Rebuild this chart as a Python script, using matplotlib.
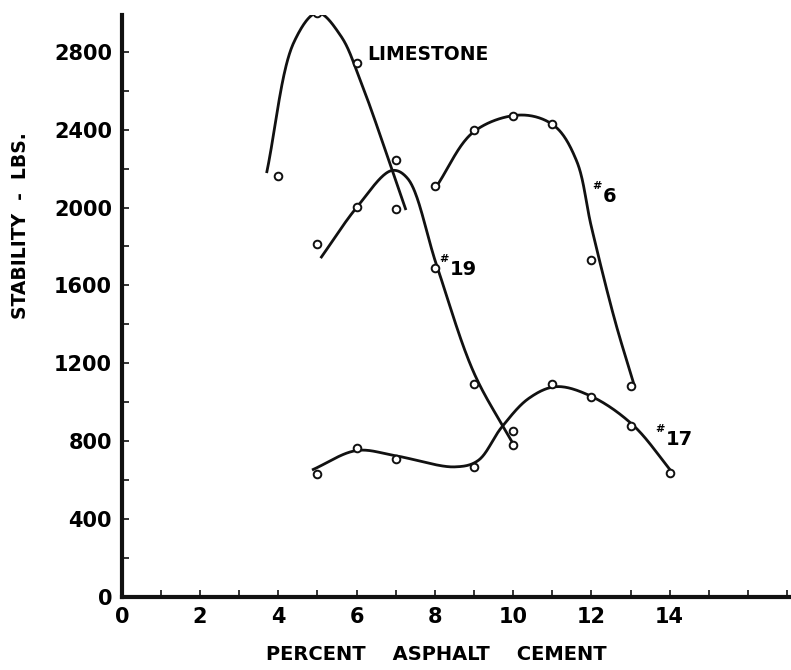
import numpy as np
import matplotlib.pyplot as plt
from matplotlib.ticker import MultipleLocator, FixedLocator

# measured points (percent asphalt, stability lbs)
limestone_x = [4, 5, 6, 7]
limestone_y = [2160, 3000, 2740, 1990]
no19_x = [5, 6, 7, 8, 9, 10]
no19_y = [1815, 2005, 2245, 1690, 1095, 780]
no6_x = [8, 9, 10, 11, 12, 13]
no6_y = [2110, 2400, 2470, 2430, 1730, 1085]
no17_x = [5, 6, 7, 9, 10, 11, 12, 13, 14]
no17_y = [630, 765, 710, 665, 850, 1095, 1025, 880, 635]

# hand-drawn fitted curves
limestone_cx = [3.7, 4.4, 5.0, 5.6, 6.1, 7.26]
limestone_cy = [2177, 2850, 3000, 2880, 2650, 1987]
no19_cx = [5.08, 6.0, 6.9, 7.3, 8.05, 9.0, 9.99]
no19_cy = [1740, 2000, 2190, 2150, 1700, 1150, 790]
no6_cx = [8.03, 9.0, 10.2, 11.05, 11.62, 12.0, 12.6, 13.1]
no6_cy = [2105, 2390, 2475, 2420, 2240, 1900, 1420, 1083]
no17_cx = [4.86, 6.0, 7.0, 8.5, 9.1, 9.7, 10.4, 11.1, 12.0, 13.06, 14.08]
no17_cy = [652, 752, 725, 668, 700, 870, 1020, 1080, 1030, 883, 636]

# rough pixel scale so the spline works in screen-like space
SX, SY = 39.1, 0.1946


def smooth(xs, ys, n=40):
    # centripetal catmull-rom through the curve points
    p = np.column_stack([np.array(xs) * SX, np.array(ys) * SY]).astype(float)
    p = np.vstack([2 * p[0] - p[1], p, 2 * p[-1] - p[-2]])
    out = []
    for i in range(1, len(p) - 2):
        p0, p1, p2, p3 = p[i - 1], p[i], p[i + 1], p[i + 2]
        t0 = 0.0
        t1 = t0 + np.linalg.norm(p1 - p0) ** 0.5
        t2 = t1 + np.linalg.norm(p2 - p1) ** 0.5
        t3 = t2 + np.linalg.norm(p3 - p2) ** 0.5
        t = np.linspace(t1, t2, n)[:, None]
        a1 = (t1 - t) / (t1 - t0) * p0 + (t - t0) / (t1 - t0) * p1
        a2 = (t2 - t) / (t2 - t1) * p1 + (t - t1) / (t2 - t1) * p2
        a3 = (t3 - t) / (t3 - t2) * p2 + (t - t2) / (t3 - t2) * p3
        b1 = (t2 - t) / (t2 - t0) * a1 + (t - t0) / (t2 - t0) * a2
        b2 = (t3 - t) / (t3 - t1) * a2 + (t - t1) / (t3 - t1) * a3
        c = (t2 - t) / (t2 - t1) * b1 + (t - t1) / (t2 - t1) * b2
        out.append(c)
    out = np.vstack(out)
    return out[:, 0] / SX, out[:, 1] / SY


fig = plt.figure(figsize=(7.91, 6.70), dpi=100)
ax = fig.add_axes([0.154, 0.109, 0.846, 0.869])

lw = 2.0
for cx, cy in [(limestone_cx, limestone_cy), (no19_cx, no19_cy),
               (no6_cx, no6_cy), (no17_cx, no17_cy)]:
    sx, sy = smooth(cx, cy)
    ax.plot(sx, sy, color='#111111', lw=lw, solid_capstyle='butt', zorder=2)

for px, py in [(limestone_x, limestone_y), (no19_x, no19_y),
               (no6_x, no6_y), (no17_x, no17_y)]:
    ax.plot(px, py, 'o', ms=5.5, mfc='white', mec='#111111', mew=1.4, zorder=3)

ax.set_xlim(0, 17.1)
ax.set_ylim(0, 2990)

ax.xaxis.set_major_locator(FixedLocator([0, 2, 4, 6, 8, 10, 12, 14]))
ax.xaxis.set_minor_locator(MultipleLocator(1))
ax.yaxis.set_major_locator(MultipleLocator(400))
ax.yaxis.set_minor_locator(MultipleLocator(200))
ax.tick_params(which='both', direction='in', length=5, width=1.2, color='#111111')
ax.tick_params(axis='both', labelsize=15, pad=7)
for lab in ax.get_xticklabels() + ax.get_yticklabels():
    lab.set_fontweight('bold')

for s in ['top', 'right']:
    ax.spines[s].set_visible(False)
for s in ['left', 'bottom']:
    ax.spines[s].set_linewidth(3)
    ax.spines[s].set_color('#111111')

ax.set_xlabel('PERCENT    ASPHALT    CEMENT', fontsize=14, fontweight='bold')
ax.xaxis.set_label_coords(0.47, -0.082)
ax.set_ylabel('STABILITY  -  LBS.', fontsize=13.5, fontweight='bold')
ax.yaxis.set_label_coords(-0.137, 0.637)

ax.text(6.28, 2785, 'LIMESTONE', fontsize=13.5, fontweight='bold', va='center', ha='left')
labels = [(8.38, 1680, '19'), (12.29, 2055, '6'), (13.9, 807, '17')]
for lx, ly, t in labels:
    ax.text(lx, ly, t, fontsize=14, fontweight='bold', va='center', ha='left')
    ax.text(lx - 0.02, ly + 30, '#', fontsize=8, fontweight='bold', va='bottom', ha='right')

fig.savefig('out.png', dpi=100)
